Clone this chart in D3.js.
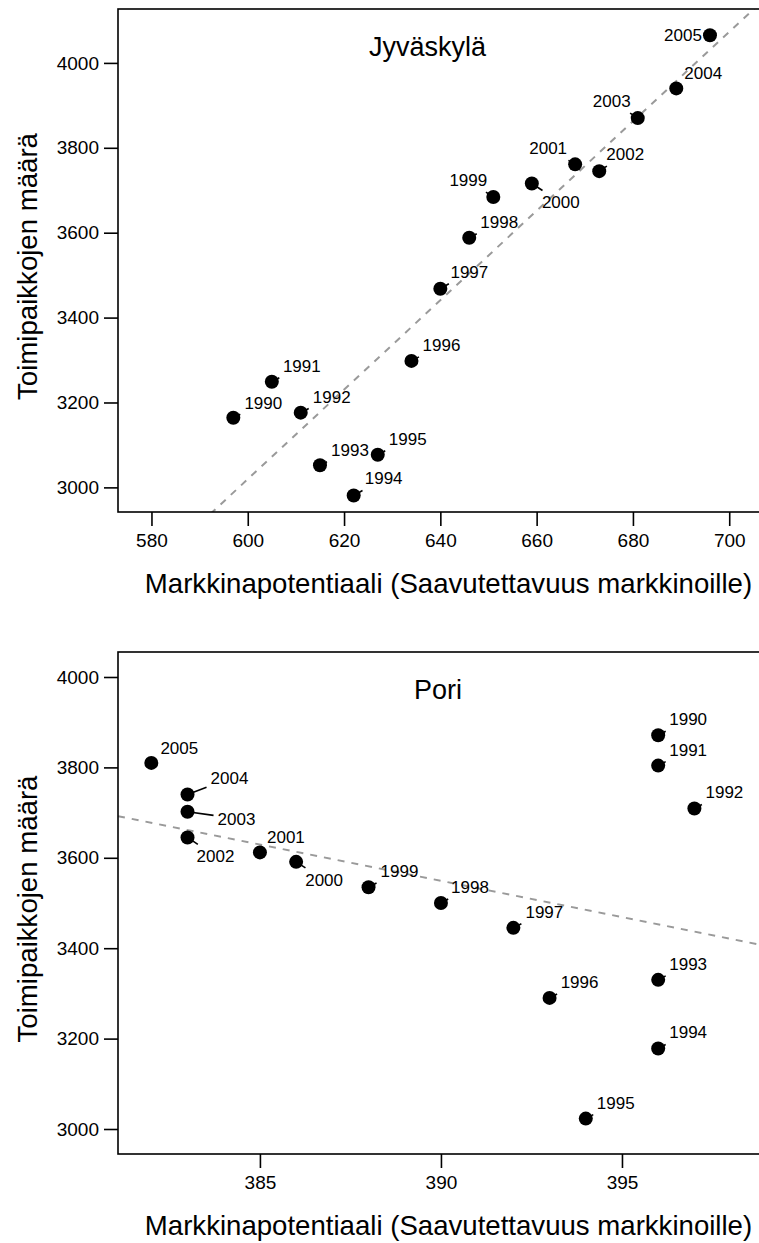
<!DOCTYPE html>
<html>
<head>
<meta charset="utf-8">
<script src="https://cdn.jsdelivr.net/npm/d3@7"></script>
<style>
  html, body { margin: 0; padding: 0; background: #fff; }
  svg { display: block; font-family: "Liberation Sans", Arial, Helvetica, sans-serif; }
</style>
</head>
<body>
<svg id="chart" width="759" height="1243"></svg>
<script>
// Vuodet 1990–2005
const years = [1990, 1991, 1992, 1993, 1994, 1995, 1996, 1997, 1998, 1999, 2000, 2001, 2002, 2003, 2004, 2005];

// Jyväskylä: markkinapotentiaali ja toimipaikkojen määrä
const jyvMarket = [597, 605, 611, 615, 622, 627, 634, 640, 646, 651, 659, 668, 673, 681, 689, 696];
const jyvFirms  = [3164, 3249, 3176, 3052, 2981, 3077, 3298, 3468, 3588, 3684, 3716, 3761, 3745, 3870, 3940, 4065];

// Pori: markkinapotentiaali ja toimipaikkojen määrä
const poriMarket = [396, 396, 397, 396, 396, 394, 393, 392, 390, 388, 386, 385, 383, 383, 383, 382];
const poriFirms  = [3871, 3804, 3709, 3330, 3178, 3023, 3290, 3445, 3500, 3535, 3591, 3612, 3645, 3702, 3740, 3810];

// Akselien jaot
const jyvXTicks = [580, 600, 620, 640, 660, 680, 700];
const poriXTicks = [385, 390, 395];
const yTicks = [3000, 3200, 3400, 3600, 3800, 4000];

const xTitle = "Markkinapotentiaali (Saavutettavuus markkinoille)";
const yTitle = "Toimipaikkojen määrä";

// Vuosietikettien siirrot pisteestä (px)
const jyvLabelShift = [[30,-15],[30,-16],[31,-16],[30,-15],[30,-17],[30,-16],[30,-16],[29,-17],
                       [30,-16],[-25,-17],[29,19],[-27,-16],[26,-17],[-26,-17],[27,-15],[-27,0]];
const poriLabelShift = [[30,-16],[30,-16],[30,-16],[30,-16],[30,-16],[30,-16],[30,-16],[31,-16],
                        [29,-16],[31,-16],[28,18],[26,-15],[28,19],[49,7],[42,-16],[28,-15]];

const svg = d3.select("#chart");

function panel(cfg) {
  const { name, market, firms, shifts, xDomain, yDomain, xTicks, box, titleX, id } = cfg;
  const x = d3.scaleLinear().domain(xDomain).range([box.left, box.right]);
  const y = d3.scaleLinear().domain(yDomain).range([box.bottom, box.top]);
  const g = svg.append("g");

  g.append("clipPath").attr("id", id)
    .append("rect")
    .attr("x", box.left).attr("y", box.top)
    .attr("width", box.right - box.left).attr("height", box.bottom - box.top);

  // Pienimmän neliösumman suora
  const mx = d3.mean(market), my = d3.mean(firms);
  const sxy = d3.sum(market, (v, i) => (v - mx) * (firms[i] - my));
  const sxx = d3.sum(market, v => (v - mx) * (v - mx));
  const b = sxy / sxx, a = my - b * mx;
  const line = d3.line().x(d => x(d)).y(d => y(a + b * d));
  g.append("path")
    .attr("clip-path", `url(#${id})`)
    .attr("d", line(xDomain))
    .attr("fill", "none")
    .attr("stroke", "#9a9a9a")
    .attr("stroke-width", 2)
    .attr("stroke-dasharray", "7,7");

  // Akselit
  const xAxis = d3.axisBottom(x).tickValues(xTicks).tickSize(14).tickPadding(8).tickFormat(d3.format("d"));
  const yAxis = d3.axisLeft(y).tickValues(yTicks).tickSize(14).tickPadding(5).tickFormat(d3.format("d"));
  const gx = g.append("g").attr("transform", `translate(0,${box.bottom})`).call(xAxis);
  const gy = g.append("g").attr("transform", `translate(${box.left},0)`).call(yAxis);
  [gx, gy].forEach(ax => {
    ax.select(".domain").remove();
    ax.selectAll(".tick line").attr("stroke", "#000").attr("stroke-width", 1.6);
    ax.selectAll(".tick text").attr("fill", "#000").attr("font-size", 19)
      .attr("font-family", "Liberation Sans, Arial, Helvetica, sans-serif");
  });

  // Kehys
  g.append("rect")
    .attr("x", box.left).attr("y", box.top)
    .attr("width", box.right - box.left).attr("height", box.bottom - box.top)
    .attr("fill", "none").attr("stroke", "#000").attr("stroke-width", 1.6);

  // Paneelin otsikko
  g.append("text")
    .attr("x", titleX).attr("y", box.top + 38)
    .attr("dy", "0.35em")
    .attr("text-anchor", "middle")
    .attr("font-size", 27)
    .text(name);

  // Akselien otsikot
  g.append("text")
    .attr("x", 448.5)
    .attr("y", box.bottom + 81)
    .attr("text-anchor", "middle")
    .attr("font-size", 27.6)
    .text(xTitle);
  g.append("text")
    .attr("transform", `translate(37,${(box.top + box.bottom) / 2 + 6}) rotate(-90)`)
    .attr("text-anchor", "middle")
    .attr("font-size", 27.6)
    .text(yTitle);

  const pts = years.map((yr, i) => ({
    yr, cx: x(market[i]), cy: y(firms[i]),
    lx: x(market[i]) + shifts[i][0], ly: y(firms[i]) + shifts[i][1]
  }));

  // Yhdysviivat etiketteihin: pisteestä etiketin (pehmustetun) laatikon reunaan
  const halfW = 19 + 4, halfH = 7 + 5;
  g.append("g").selectAll("line").data(pts).join("line")
    .each(function(d) {
      const vx = d.cx - d.lx, vy = d.cy - d.ly;
      const tx = vx !== 0 ? halfW / Math.abs(vx) : Infinity;
      const ty = vy !== 0 ? halfH / Math.abs(vy) : Infinity;
      const t = Math.min(tx, ty, 1);
      d3.select(this)
        .attr("x1", d.cx).attr("y1", d.cy)
        .attr("x2", d.lx + vx * t).attr("y2", d.ly + vy * t);
    })
    .attr("stroke", "#000")
    .attr("stroke-width", 1.6);

  // Pisteet
  g.append("g").selectAll("circle").data(pts).join("circle")
    .attr("cx", d => d.cx).attr("cy", d => d.cy)
    .attr("r", 7).attr("fill", "#000");

  // Vuosietiketit
  g.append("g").selectAll("text").data(pts).join("text")
    .attr("x", d => d.lx).attr("y", d => d.ly)
    .attr("dy", "0.35em")
    .attr("text-anchor", "middle")
    .attr("font-size", 17)
    .text(d => d.yr);
}

panel({
  id: "clipJyv", name: "Jyväskylä",
  market: jyvMarket, firms: jyvFirms, shifts: jyvLabelShift,
  xDomain: [573.05, 706.6], yDomain: [2942, 4127], xTicks: jyvXTicks,
  box: { left: 118, right: 761, top: 9, bottom: 512 }, titleX: 427.5
});

panel({
  id: "clipPori", name: "Pori",
  market: poriMarket, firms: poriFirms, shifts: poriLabelShift,
  xDomain: [381.08, 398.84], yDomain: [2944.7, 4055.3], xTicks: poriXTicks,
  box: { left: 118, right: 761, top: 652, bottom: 1154 }, titleX: 438
});
</script>
</body>
</html>
